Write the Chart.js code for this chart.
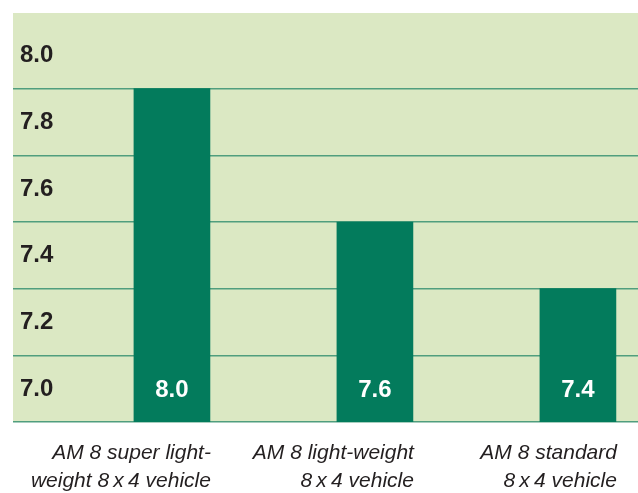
<!DOCTYPE html>
<html>
    <head>
        <title>AM 8 vehicles</title>
        <meta charset="UTF-8">
        <style>
            html, body { margin: 0; padding: 0; background: #ffffff; }
            #holder { width: 638px; height: 493px; }
        </style>
    </head>
    <body>
        <div id="holder">
            <canvas id="grafica"></canvas>
        </div>

        <script src="https://cdn.jsdelivr.net/npm/chart.js@4/dist/chart.umd.min.js"></script>
        <script>
            // data
            var categories = [
                ["AM 8 super light-", "weight 8\u2009x\u20094 vehicle"],
                ["AM 8 light-weight", "8\u2009x\u20094 vehicle"],
                ["AM 8 standard", "8\u2009x\u20094 vehicle"]
            ];
            var values = [8.0, 7.6, 7.4];
            var tickLabels = ["7.0", "7.2", "7.4", "7.6", "7.8", "8.0"];
            var positions = [0, 1, 2];

            var bgColor = '#dbe8c3';
            var barColor = '#037b5c';
            var gridColor = '#509e7e';
            var numFont = '"Liberation Sans", Arial, sans-serif';

            // green panel behind the plot
            var panel = {
                id: 'panel',
                beforeDraw: function (c) {
                    var ctx = c.ctx;
                    var a = c.chartArea;
                    ctx.save();
                    ctx.fillStyle = bgColor;
                    ctx.fillRect(13, 13, c.width - 13, a.bottom - 13);
                    ctx.restore();
                }
            };

            // white value text in the bottom band of each bar
            var barText = {
                id: 'barText',
                afterDatasetsDraw: function (c) {
                    var ctx = c.ctx;
                    var meta = c.getDatasetMeta(0);
                    var y = c.scales.y.getPixelForValue(7.1);
                    ctx.save();
                    ctx.fillStyle = '#ffffff';
                    ctx.font = 'bold 24px ' + numFont;
                    ctx.textAlign = 'center';
                    ctx.textBaseline = 'middle';
                    meta.data.forEach(function (bar, i) {
                        ctx.fillText(values[i].toFixed(1), bar.x, y + 2);
                    });
                    ctx.restore();
                }
            };

            var ctx = document.getElementById("grafica").getContext("2d");
            new Chart(ctx, {
                type: 'bar',
                data: {
                    datasets: [{
                        data: positions.map(function (p, i) { return {x: p, y: values[i]}; }),
                        backgroundColor: barColor,
                        borderWidth: 0,
                        barThickness: 76
                    }]
                },
                options: {
                    responsive: true,
                    maintainAspectRatio: false,
                    animation: false,
                    layout: {padding: {left: 6, top: 22, right: 0, bottom: 0}},
                    plugins: {
                        legend: {display: false},
                        tooltip: {enabled: false}
                    },
                    scales: {
                        x: {
                            type: 'linear',
                            offset: false,
                            min: -0.783,
                            max: 2.296,
                            grid: {display: false, drawTicks: false, offset: false},
                            border: {display: false},
                            afterFit: function (s) {
                                s.height = 71;
                                s.paddingLeft = 0;
                                s.paddingRight = 0;
                            },
                            ticks: {
                                stepSize: 1,
                                includeBounds: false,
                                align: 'end',
                                labelOffset: 39,
                                padding: 18,
                                color: '#231f20',
                                font: {family: '"Liberation Sans", Arial, sans-serif', size: 21, style: 'italic', lineHeight: 1.3},
                                callback: function (v) {
                                    var i = positions.indexOf(v);
                                    return i >= 0 ? categories[i] : '';
                                }
                            }
                        },
                        y: {
                            min: 7.0,
                            max: 8.2,
                            grid: {
                                drawTicks: false,
                                lineWidth: 1.5,
                                color: function (c) {
                                    return c.tick && c.tick.value > 8.1 ? 'rgba(0,0,0,0)' : gridColor;
                                }
                            },
                            border: {display: false},
                            afterFit: function (s) { s.width = 7; },
                            ticks: {
                                stepSize: 0.2,
                                mirror: true,
                                padding: 7,
                                labelOffset: -33,
                                color: '#231f20',
                                font: {family: numFont, size: 24, weight: 'bold'},
                                callback: function (v, i) {
                                    return i < tickLabels.length ? tickLabels[i] : '';
                                }
                            }
                        }
                    }
                },
                plugins: [panel, barText]
            });
        </script>
    </body>
</html>
